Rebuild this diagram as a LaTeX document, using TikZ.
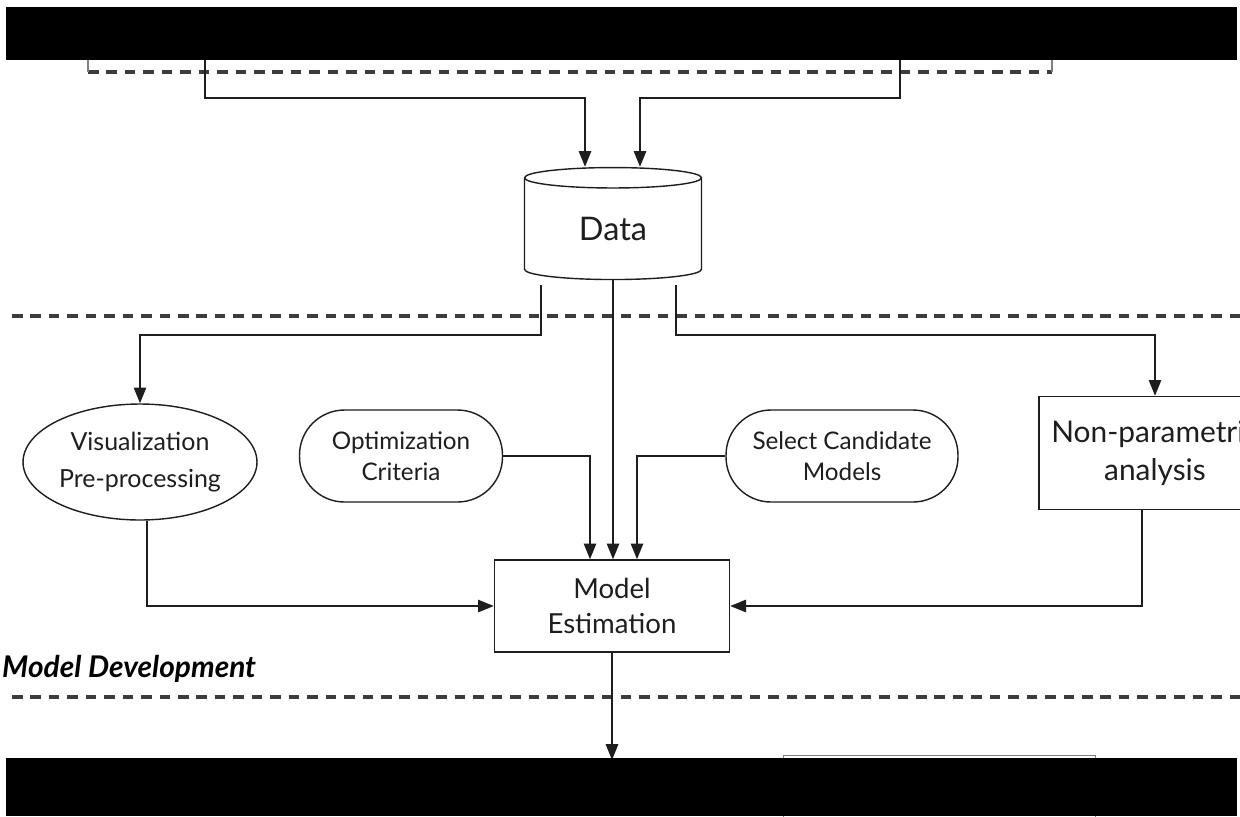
\documentclass[tikz,border=0pt]{standalone}
\usepackage{fontspec}
\setmainfont{Lato}
\usetikzlibrary{shapes.geometric,arrows.meta}
\definecolor{ink}{HTML}{1E1E1E}
\definecolor{sepgray}{HTML}{3C3C3C}
\tikzset{
  arr/.style={-{Triangle[length=9pt,width=7pt]},line width=1.1pt,draw=ink},
  sepline/.style={line width=1.8pt,draw=sepgray,dash pattern=on 6pt off 4.5pt},
  boxnode/.style={draw=ink,line width=0.8pt,fill=white,align=center,text=ink,inner sep=0pt},
  pill/.style={boxnode,rounded corners=0.9cm},
}
\begin{document}
\begin{tikzpicture}[x=0.02cm,y=-0.02cm]
\useasboundingbox (0,0) rectangle (1240,816);
\fill[white] (0,0) rectangle (1240,816);
\clip (0,0) rectangle (1240,816);
% separators
\draw[sepline] (88,72) -- (1052,72);
\draw[line width=0.6pt,gray] (88,50) -- (88,72) (1052,50) -- (1052,72);
\draw[sepline] (12,316) -- (1240,316);
\draw[sepline] (12,697) -- (1240,697);
% nodes
\node[cylinder,shape border rotate=90,draw=ink,line width=0.8pt,fill=white,
      minimum width=3.54cm,minimum height=2.24cm,aspect=0.3,inner sep=0pt,
      font=\fontsize{18.5}{22}\selectfont,text=ink] (dat) at (613,229) {Data};
\node[ellipse,boxnode,minimum width=4.68cm,minimum height=2.32cm,
      font=\fontsize{14.2}{21.5}\selectfont] (vis) at (140,462) {Visualization\\Pre-processing};
\node[pill,minimum width=4.06cm,minimum height=1.84cm,
      font=\fontsize{13.8}{17.6}\selectfont] (opt) at (401,456) {Optimization\\Criteria};
\node[pill,minimum width=4.64cm,minimum height=1.84cm,
      font=\fontsize{13.8}{18}\selectfont] (sel) at (842,456) {Select Candidate\\Models};
\node[boxnode,minimum width=4.7cm,minimum height=1.84cm,
      font=\fontsize{15.7}{20.4}\selectfont] (est) at (612,606) {Model\\Estimation};
\node[boxnode,minimum width=4.64cm,minimum height=2.26cm,
      font=\fontsize{17}{21.5}\selectfont] (npa) at (1155,453) {Non-parametric\\analysis};
\node[anchor=west,text=black,font=\fontsize{17}{19}\selectfont\bfseries\itshape] (dev) at (-4,669) {Model Development};
\node[draw=gray,line width=0.8pt,minimum width=6.24cm,minimum height=2cm,anchor=north west] (nxt) at (783,755) {};
% free ends
\coordinate (srcL) at (205,40);
\coordinate (srcR) at (900,40);
\coordinate (busT) at (0,98);
\coordinate (busM) at (0,335);
\coordinate (outB) at (0,760);
\coordinate (inL) at ([xshift=-0.56cm]dat.north);
\coordinate (inR) at ([xshift=0.54cm]dat.north);
% connectors
\draw[arr] (srcL) |- (inL |- busT) -- (inL);
\draw[arr] (srcR) |- (inR |- busT) -- (inR);
\draw[arr] ([shift={(-1.44cm,-0.1cm)}]dat.south) |- (vis.north |- busM) -- (vis.north);
\draw[arr] ([shift={(1.26cm,-0.1cm)}]dat.south) |- (npa.north |- busM) -- (npa.north);
\draw[arr] (dat.south) -- (dat.south |- est.north);
\draw[arr] (opt.east) -| ([xshift=-0.44cm]est.north);
\draw[arr] (sel.west) -| ([xshift=0.5cm]est.north);
\draw[arr] ([xshift=0.14cm]vis.south) |- (est.west);
\draw[arr] ([xshift=-0.26cm]npa.south) |- (est.east);
\draw[arr] (est.south) -- (est.south |- outB);
% screen bars
\fill[black] (6,7) rectangle (1237,60);
\fill[black] (6,758) rectangle (1237,816);
\end{tikzpicture}
\end{document}
